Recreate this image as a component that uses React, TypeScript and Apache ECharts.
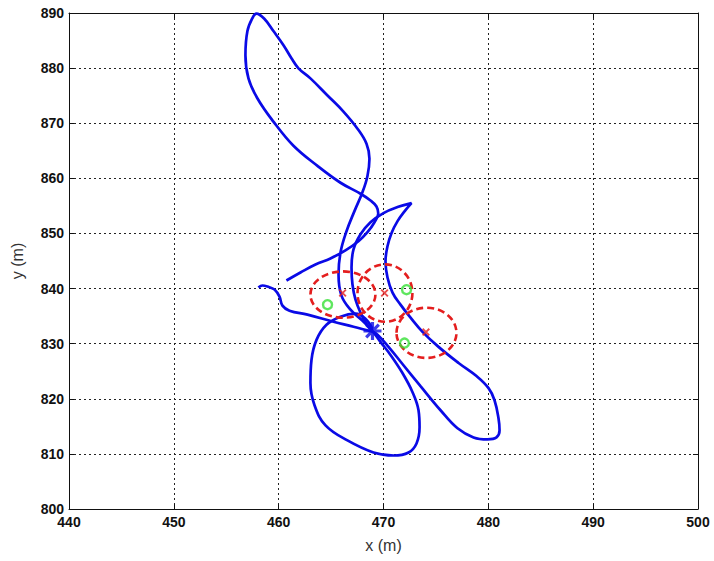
import React, { useEffect, useRef } from "react";
import * as echarts from "echarts";

// x / y axis ranges and ticks
const xTicks = [440, 450, 460, 470, 480, 490, 500];
const yTicks = [800, 810, 820, 830, 840, 850, 860, 870, 880, 890];

// Blue trajectory pieces [x (m), y (m)]
const trackA: [number, number][] = [
  [460.74, 841.46], [462.08, 842.92], [463.51, 844.38], [464.94, 845.47], [466.37, 846.93],
  [467.61, 848.58], [468.47, 850.22], [469.14, 852.04], [469.5, 853.6], [469.33, 854.9],
  [468.76, 855.98], [467.81, 857.2], [465.9, 859.2], [463.7, 862.26], [461.41, 865.91],
  [459.5, 870.29], [457.98, 874.49], [457.12, 878.14], [456.83, 882.34], [457.02, 886.72],
  [457.5, 889.09], [457.88, 889.9], [458.65, 888.91], [459.5, 886.72], [460.46, 884.16],
  [461.22, 881.79], [461.89, 879.96], [463.03, 878.14], [464.66, 875.04], [466.18, 872.12],
  [467.52, 869.01], [468.38, 866.28], [468.66, 863.54], [468.47, 860.44], [468.0, 857.52],
  [467.23, 854.05], [466.47, 850.4], [465.9, 846.57], [465.71, 842.55], [465.99, 838.72],
  [466.85, 836.17], [468.0, 834.16], [468.95, 832.34],
];
const trackB: [number, number][] = [
  [468.95, 832.34], [469.71, 830.33], [470.67, 827.96], [471.81, 824.67], [472.77, 821.2],
  [473.34, 817.92], [473.44, 814.82], [473.15, 811.9], [472.39, 810.26], [470.95, 809.71],
  [469.05, 810.26], [466.56, 812.45], [464.47, 815.18], [463.42, 818.83], [463.03, 822.85],
  [463.13, 827.04], [463.61, 830.69], [464.56, 833.43], [465.9, 834.89], [467.33, 835.44],
  [468.28, 834.53], [468.95, 832.7],
];
const trackC: [number, number][] = [
  [468.95, 832.34], [468.38, 833.61], [467.81, 835.62], [467.33, 837.99], [467.04, 840.73],
  [466.95, 843.83], [467.14, 847.12], [467.81, 849.85], [468.76, 852.04], [470.0, 853.69],
  [471.34, 854.78], [472.67, 855.51], [472.1, 854.23], [471.34, 852.23], [470.76, 850.04],
  [470.38, 847.66], [470.19, 844.93], [470.38, 842.01], [470.86, 839.27], [471.62, 837.08],
  [472.58, 834.71], [473.72, 832.15], [475.25, 829.42], [477.16, 826.5], [478.87, 824.12],
  [480.02, 821.93], [480.59, 819.74], [480.97, 816.46], [481.07, 814.27], [480.78, 812.99],
  [479.92, 812.63], [478.59, 812.99], [477.06, 814.64], [475.44, 817.92], [473.53, 822.3],
  [471.81, 826.31], [470.48, 829.42], [469.43, 831.61], [468.95, 832.15],
];
const trackD: [number, number][] = [
  [468.95, 832.15], [467.14, 833.07], [465.23, 833.98], [462.75, 835.26], [461.03, 835.99],
  [460.36, 836.9], [460.08, 838.54], [459.6, 839.82], [458.93, 840.36], [458.45, 840.55],
  [458.07, 840.18],
];

// Current position (blue star)
const starPoint: [number, number][] = [[468.95, 832.3]];
// Estimates (red x) and their uncertainty ellipses [cx, cy, rx, ry]
const estimates: [number, number][] = [[466.1, 839.2], [470.1, 839.2], [474.05, 832.1]];
const ellipses: [number, number, number, number][] = [
  [466.13, 838.91, 3.1, 4.2],
  [470.14, 839.18, 2.62, 5.2],
  [474.1, 831.97, 2.86, 4.56],
];
// Landmarks (green o)
const landmarks: [number, number][] = [[464.66, 837.08], [472.2, 839.8], [472.0, 830.1]];

const BLUE = "#0a0ae6";
const RED = "#e41e1e";
const GREEN = "#36e036";
const FONT = "'Liberation Sans', Arial, sans-serif";

const STAR_PATH =
  "path://M-1.4,-8L1.4,-8L1.4,8L-1.4,8Z M-8,-1.4L8,-1.4L8,1.4L-8,1.4Z M-4.6,-6.6L6.6,4.6L4.6,6.6L-6.6,-4.6Z M6.6,-4.6L-4.6,6.6L-6.6,4.6L4.6,-6.6Z";
const X_PATH =
  "path://M-4.4,-6.6L6.6,4.4L4.4,6.6L-6.6,-4.4Z M6.6,-4.4L-4.4,6.6L-6.6,4.4L4.4,-6.6Z";

export default function App() {
  const ref = useRef<HTMLDivElement>(null);
  useEffect(() => {
    if (!ref.current) return;
    const chart = echarts.init(ref.current, undefined, { renderer: "svg" });
    const gridLine = { show: true, lineStyle: { color: "#222", width: 1, type: [2, 3] as any } };
    const baseX = {
      type: "value" as const,
      min: xTicks[0],
      max: xTicks[xTicks.length - 1],
      interval: xTicks[1] - xTicks[0],
    };
    const baseY = {
      type: "value" as const,
      min: yTicks[0],
      max: yTicks[yTicks.length - 1],
      interval: yTicks[1] - yTicks[0],
    };
    const axisLine = { show: true, onZero: false, lineStyle: { color: "#111", width: 1 } };
    const axisTick = { show: true, inside: true, length: 5, lineStyle: { color: "#111" } };
    const lineSeries = (data: [number, number][]) => ({
      type: "line" as const,
      data,
      showSymbol: false,
      smooth: 0.4,
      lineStyle: { color: BLUE, width: 2.7 },
      z: 2,
    });
    chart.setOption({
      animation: false,
      backgroundColor: "#fff",
      grid: { left: 69, right: 16, top: 13, bottom: 52 },
      xAxis: [
        {
          ...baseX,
          position: "bottom",
          name: "x (m)",
          nameLocation: "middle",
          nameGap: 28,
          nameTextStyle: { fontFamily: FONT, fontSize: 16, color: "#333" },
          axisLine,
          axisTick,
          axisLabel: { fontFamily: FONT, fontSize: 14, fontWeight: "bold", color: "#111", margin: 6 },
          splitLine: gridLine,
        },
        {
          ...baseX,
          position: "top",
          axisLine,
          axisTick,
          axisLabel: { show: false },
          splitLine: { show: false },
        },
      ],
      yAxis: [
        {
          ...baseY,
          position: "left",
          name: "y (m)",
          nameLocation: "middle",
          nameGap: 44,
          nameTextStyle: { fontFamily: FONT, fontSize: 16, color: "#333" },
          axisLine,
          axisTick,
          axisLabel: { fontFamily: FONT, fontSize: 14, fontWeight: "bold", color: "#111", margin: 5 },
          splitLine: gridLine,
        },
        {
          ...baseY,
          position: "right",
          axisLine,
          axisTick,
          axisLabel: { show: false },
          splitLine: { show: false },
        },
      ],
      series: [
        lineSeries(trackA),
        lineSeries(trackB),
        lineSeries(trackC),
        lineSeries(trackD),
        {
          type: "custom",
          data: ellipses,
          encode: { x: 0, y: 1 },
          z: 3,
          renderItem: (params: any, api: any) => {
            const c = api.coord([api.value(0), api.value(1)]);
            const s = api.size([api.value(2), api.value(3)]);
            return {
              type: "ellipse",
              shape: { cx: c[0], cy: c[1], rx: s[0], ry: s[1] },
              style: { fill: "none", stroke: RED, lineWidth: 2.6, lineDash: [7, 4] },
            };
          },
        },
        {
          type: "scatter",
          data: estimates,
          symbol: X_PATH,
          symbolSize: 8,
          itemStyle: { color: RED },
          z: 4,
        },
        {
          type: "scatter",
          data: landmarks,
          symbol: "circle",
          symbolSize: 9,
          itemStyle: { color: "rgba(0,0,0,0)", borderColor: GREEN, borderWidth: 2.4 },
          z: 4,
        },
        {
          type: "scatter",
          data: starPoint,
          symbol: STAR_PATH,
          symbolSize: 18,
          itemStyle: { color: BLUE },
          z: 5,
        },
      ],
    });
    return () => chart.dispose();
  }, []);
  return (
    <div
      ref={ref}
      style={{ position: "fixed", left: 0, top: 0, width: 714, height: 561, background: "#fff" }}
    />
  );
}
